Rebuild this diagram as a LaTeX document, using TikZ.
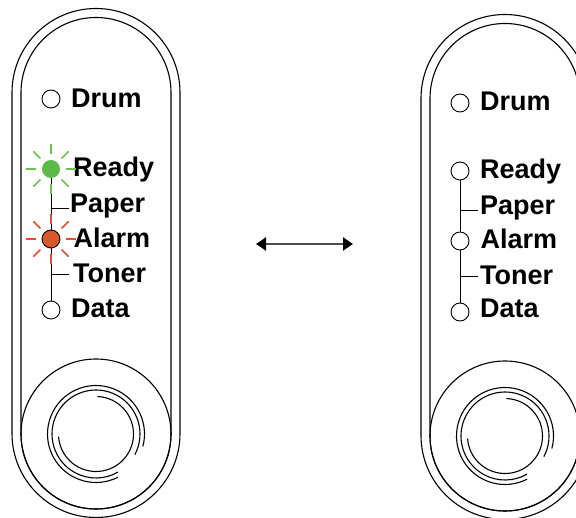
\documentclass[tikz,border=0pt]{standalone}
\usepackage{fontspec}
\setmainfont{Liberation Sans}
\usetikzlibrary{arrows.meta}

\definecolor{ledgreen}{RGB}{93,186,72}
\definecolor{ledred}{RGB}{217,88,42}
\definecolor{raygreen}{RGB}{106,194,80}
\definecolor{rayred}{RGB}{228,78,48}

\begin{document}
\begin{tikzpicture}[x=1pt, y=1pt,
    led/.style={circle, draw=black, line width=0.9pt, minimum size=18pt, inner sep=0pt, fill=white},
    lbl/.style={anchor=base west, inner sep=0pt, font=\fontsize{27}{30}\selectfont\bfseries},
    rim/.style={line width=1.1pt},
    ray/.style={line width=1.6pt}]
    \clip (0,0) rectangle (576,-518);

    %Panel on the left
    \draw[rim] (12,-92.5) arc[start angle=180, end angle=0, radius=84pt] -- (180,-433.5)
        arc[start angle=0, end angle=-180, radius=84pt] -- cycle;
    \draw[rim] (21,-92.5) arc[start angle=180, end angle=0, radius=75pt] -- (171,-434)
        arc[start angle=0, end angle=-180, radius=75pt] -- cycle;
    \node[circle, draw, rim, minimum size=150pt, inner sep=0pt] (btnL) at (96,-434) {};
    \draw[rim] (btnL.center) ++(-15:48.5) arc[start angle=-15, end angle=297, radius=48.5pt];
    \draw[rim] (btnL.center) ++(-28:44) arc[start angle=-28, end angle=300, radius=44pt];
    \draw[rim] (btnL.center) ++(88:37.5) arc[start angle=88, end angle=-176, radius=37.5pt];

    %Nodes
    \node[led] (drumL) at (51,-99) {};
    \node[led, draw=none, fill=ledgreen] (readyL) at (51,-169) {};
    \node[led, fill=ledred] (alarmL) at (51,-239) {};
    \node[led] (dataL) at (51,-310) {};
    \node[lbl] (drumTxtL) at (71,-108) {Drum};
    \node[lbl] (readyTxtL) at (73,-177) {Ready};
    \node[lbl] (paperTxtL) at (70,-212.5) {Paper};
    \node[lbl] (alarmTxtL) at (73.5,-248) {Alarm};
    \node[lbl] (tonerTxtL) at (73,-283) {Toner};
    \node[lbl] (dataTxtL) at (71,-318) {Data};
    \coordinate (paperTickL) at (69,-208);
    \coordinate (tonerTickL) at (69,-274);

    %Lines
    \draw[line width=0.9pt] (readyL) -- (alarmL) -- (dataL);
    \draw[line width=0.9pt] (paperTickL -| readyL) -- (paperTickL);
    \draw[line width=0.9pt] (tonerTickL -| alarmL) -- (tonerTickL);
    \foreach \a in {0,45,...,315} {
        \draw[ray, raygreen] (readyL.center) ++(\a:15) -- ++(\a:10);
        \draw[ray, rayred] (alarmL.center) ++(\a:15) -- ++(\a:10);
    }

    %Arrow between the two panels
    \coordinate (swapA) at (256,-244);
    \coordinate (swapB) at (353,-244);
    \draw[line width=2pt, black!70, {Triangle[length=10pt, width=13pt, color=black]}-{Triangle[length=10pt, width=13pt, color=black]}] (swapA) -- (swapB);

    %Panel on the right
    \begin{scope}[shift={(409,-2)}]
    \draw[rim] (12,-96.5) arc[start angle=180, end angle=0, radius=84pt] -- (180,-433.5)
        arc[start angle=0, end angle=-180, radius=84pt] -- cycle;
    \draw[rim] (21,-96.5) arc[start angle=180, end angle=0, radius=75pt] -- (171,-434)
        arc[start angle=0, end angle=-180, radius=75pt] -- cycle;
    \node[circle, draw, rim, minimum size=150pt, inner sep=0pt] (btnR) at (96,-434) {};
    \draw[rim] (btnR.center) ++(-15:48.5) arc[start angle=-15, end angle=297, radius=48.5pt];
    \draw[rim] (btnR.center) ++(-28:44) arc[start angle=-28, end angle=300, radius=44pt];
    \draw[rim] (btnR.center) ++(88:37.5) arc[start angle=88, end angle=-176, radius=37.5pt];

    \node[led] (drumR) at (51,-101) {};
    \node[led] (readyR) at (51,-169) {};
    \node[led] (alarmR) at (51,-239) {};
    \node[led] (dataR) at (51,-310) {};
    \node[lbl] (drumTxtR) at (71,-109) {Drum};
    \node[lbl] (readyTxtR) at (71,-177) {Ready};
    \node[lbl] (paperTxtR) at (71,-212.5) {Paper};
    \node[lbl] (alarmTxtR) at (71.5,-247) {Alarm};
    \node[lbl] (tonerTxtR) at (71,-283) {Toner};
    \node[lbl] (dataTxtR) at (71,-316) {Data};
    \coordinate (paperTickR) at (69,-208);
    \coordinate (tonerTickR) at (69,-274);

    \draw[line width=0.9pt] (readyR) -- (alarmR) -- (dataR);
    \draw[line width=0.9pt] (paperTickR -| readyR) -- (paperTickR);
    \draw[line width=0.9pt] (tonerTickR -| alarmR) -- (tonerTickR);
    \end{scope}
\end{tikzpicture}
\end{document}
